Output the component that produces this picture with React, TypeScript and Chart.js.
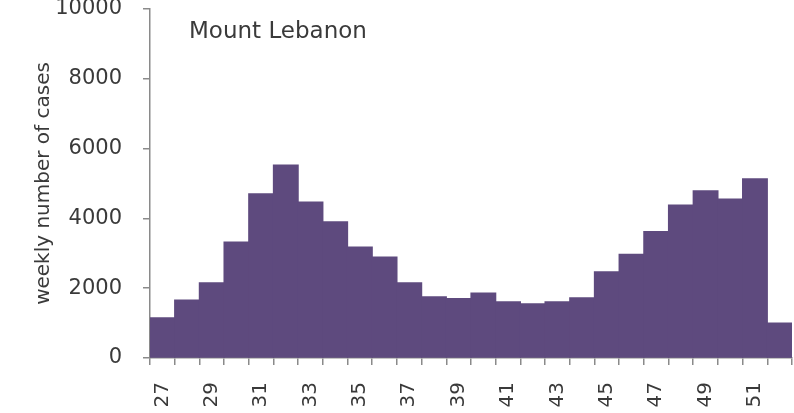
import React, { useEffect, useRef } from "react";
import { Chart, registerables } from "chart.js";

Chart.register(...registerables);

const weeks: string[] = [
  "27", "28", "29", "30", "31", "32", "33", "34", "35", "36", "37", "38", "39",
  "40", "41", "42", "43", "44", "45", "46", "47", "48", "49", "50", "51", "52",
];
const weeklyCases: number[] = [
  1150, 1660, 2150, 3320, 4700, 5530, 4470, 3900, 3180, 2890, 2150, 1750, 1700,
  1860, 1610, 1550, 1610, 1720, 2470, 2970, 3620, 4380, 4790, 4550, 5130, 1000,
];
const xTickLabels: string[] = [
  "27", "", "29", "", "31", "", "33", "", "35", "", "37", "", "39",
  "", "41", "", "43", "", "45", "", "47", "", "49", "", "51", "",
];
const yTicks: number[] = [0, 2000, 4000, 6000, 8000, 10000];
const regionTitle = "Mount Lebanon";
const yAxisTitle = "weekly number of cases";

const FONT = "'DejaVu Sans', sans-serif";
const AXIS = "#8a8a8a";
const TEXT = "#3a3a3a";
const BAR = "#5e4a7e";

const innerTitle = {
  id: "innerTitle",
  afterDraw(chart: any) {
    const { ctx, chartArea } = chart;
    ctx.save();
    ctx.font = `23px ${FONT}`;
    ctx.fillStyle = TEXT;
    ctx.textAlign = "left";
    ctx.textBaseline = "middle";
    ctx.fillText(regionTitle, chartArea.left + 39, chartArea.top + 23);
    ctx.restore();
  },
};

export default function App() {
  const ref = useRef<HTMLCanvasElement | null>(null);
  useEffect(() => {
    document.body.style.margin = "0";
    document.body.style.background = "#ffffff";
    const canvas = ref.current;
    if (!canvas) return;
    const chart = new Chart(canvas, {
      type: "bar",
      data: {
        labels: weeks,
        datasets: [
          {
            data: weeklyCases,
            backgroundColor: BAR,
            borderWidth: 0,
            inflateAmount: 0.6,
            barPercentage: 1,
            categoryPercentage: 1,
          } as any,
        ],
      },
      options: {
        animation: false,
        responsive: false,
        maintainAspectRatio: false,
        layout: { padding: { left: 0, right: 2, top: 0, bottom: 0 } },
        plugins: {
          legend: { display: false },
          tooltip: { enabled: false },
          title: { display: false },
        },
        scales: {
          x: {
            offset: true,
            grid: {
              offset: true,
              drawOnChartArea: false,
              drawTicks: true,
              tickLength: 7,
              color: AXIS,
              lineWidth: 1.5,
            },
            border: { display: true, color: AXIS, width: 1.5 },
            ticks: {
              autoSkip: false,
              maxRotation: 90,
              minRotation: 90,
              padding: 17,
              color: TEXT,
              font: { family: FONT, size: 20 },
              callback: (_v: any, i: number) => xTickLabels[i],
            },
            afterFit(scale: any) {
              scale.height = 55;
              scale.paddingLeft = 0;
              scale.paddingRight = 0;
              scale.paddingTop = 0;
              scale.paddingBottom = 0;
            },
          },
          y: {
            min: 0,
            max: 10000,
            afterBuildTicks(scale: any) {
              scale.ticks = yTicks.map((v) => ({ value: v }));
            },
            grid: {
              drawOnChartArea: false,
              drawTicks: true,
              tickLength: 7,
              color: AXIS,
              lineWidth: 1.5,
            },
            border: { display: true, color: AXIS, width: 1.5 },
            ticks: {
              padding: 21,
              color: TEXT,
              font: { family: FONT, size: 21, lineHeight: 0.85 },
              callback: (v: any) => String(v),
            },
            title: {
              display: true,
              text: yAxisTitle,
              color: TEXT,
              font: { family: FONT, size: 20, lineHeight: 1.2 },
              padding: { top: 32, bottom: 0 },
            },
            afterFit(scale: any) {
              scale.width = 150;
              scale.paddingTop = 9;
              scale.paddingBottom = 0;
              scale.paddingLeft = 0;
              scale.paddingRight = 0;
            },
          },
        },
      },
      plugins: [innerTitle],
    });
    return () => chart.destroy();
  }, []);
  return (
    <div style={{ width: 794, height: 413, position: "relative", background: "#fff" }}>
      <canvas ref={ref} width={794} height={413} style={{ display: "block" }} />
    </div>
  );
}
